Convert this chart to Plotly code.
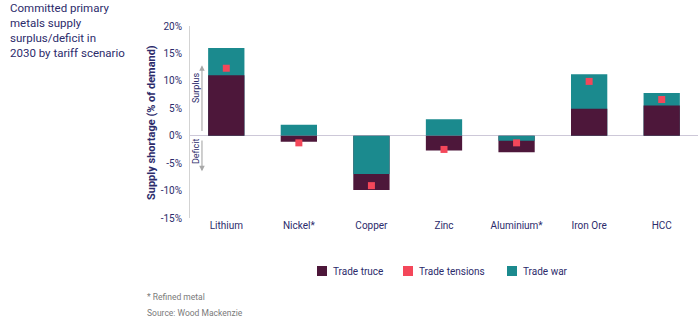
import plotly.graph_objects as go

# Supply surplus (+) / deficit (-) in 2030, % of demand, by tariff scenario
categories = ["Lithium", "Nickel*", "Copper", "Zinc", "Aluminium*", "Iron Ore", "HCC"]
trade_truce = [11.0, -1.1, -9.9, -2.7, -3.0, 4.9, 5.5]
trade_tensions = [12.3, -1.3, -9.1, -2.5, -1.3, 9.9, 6.6]
trade_war = [16.0, 2.0, -7.0, 3.0, -0.9, 11.2, 7.8]
y_ticks = [-15, -10, -5, 0, 5, 10, 15, 20]
y_ticktext = [f"{v}%" for v in y_ticks]
legend_names = ["Trade truce", "Trade tensions", "Trade war"]

TRUCE = "#4d173a"
TENSIONS = "#f4475a"
WAR = "#1b8a8e"
NAVY = "#2c2b6b"
GREY = "#7a7a7a"
FONT = "Roboto"

W, H = 698, 325
L, R, T, B = 190, 0, 26, 107
PW, PH = W - L - R, H - T - B


def px(x):
    """Horizontal pixel position -> paper coordinate."""
    return (x - L) / PW


def py(y):
    """Vertical pixel position -> paper coordinate."""
    return (H - B - y) / PH


# Overlay bars: the longer bar sits behind so both scenarios stay visible
back_vals, back_cols, front_vals, front_cols = [], [], [], []
for t, w in zip(trade_truce, trade_war):
    if abs(w) >= abs(t):
        back_vals.append(w); back_cols.append(WAR)
        front_vals.append(t); front_cols.append(TRUCE)
    else:
        back_vals.append(t); back_cols.append(TRUCE)
        front_vals.append(w); front_cols.append(WAR)

fig = go.Figure()
fig.add_bar(x=categories, y=back_vals, width=0.5, marker=dict(color=back_cols, line_width=0),
            showlegend=False, hoverinfo="skip")
fig.add_bar(x=categories, y=front_vals, width=0.5, marker=dict(color=front_cols, line_width=0),
            showlegend=False, hoverinfo="skip")
fig.add_scatter(x=categories, y=trade_tensions, mode="markers", name="Trade tensions",
                marker=dict(symbol="square", size=7, color=TENSIONS, line_width=0),
                showlegend=False)

fig.update_layout(
    width=W, height=H,
    margin=dict(l=L, r=R, t=T, b=B),
    plot_bgcolor="white", paper_bgcolor="white",
    font=dict(family=FONT, color=NAVY, size=10),
    barmode="overlay",
    showlegend=False,
    xaxis=dict(type="category", range=[-0.5, 6.5], showgrid=False, showline=False,
               ticks="", tickfont=dict(size=10, color=NAVY)),
    yaxis=dict(range=[-15, 20], tickvals=y_ticks, ticktext=y_ticktext, showgrid=False,
               zeroline=True, zerolinecolor="#cdc8d8", zerolinewidth=1,
               showline=True, linecolor="#d3d3d3", linewidth=1,
               ticks="", ticklabelstandoff=5, tickfont=dict(size=10, color=NAVY)),
)

annotations = [
    dict(text="Committed primary<br>metals supply<br>surplus/deficit in<br>2030 by tariff scenario",
         xref="paper", yref="paper", x=px(8), y=py(-1), xanchor="left", yanchor="top",
         align="left", showarrow=False, font=dict(size=11.5, color=NAVY)),
    dict(text="<b>Supply shortage (% of demand)</b>", textangle=-90,
         xref="paper", yref="paper", x=px(152), y=py(123), xanchor="center", yanchor="middle",
         showarrow=False, font=dict(size=11, color=NAVY)),
    dict(text="Surplus", textangle=-90, xref="x", yref="y", x=-0.5, xshift=6, y=8.7,
         xanchor="center", yanchor="middle", showarrow=False, font=dict(size=9, color=NAVY)),
    dict(text="Deficit", textangle=-90, xref="x", yref="y", x=-0.5, xshift=6, y=-2.8,
         xanchor="center", yanchor="middle", showarrow=False, font=dict(size=9, color=NAVY)),
    dict(text="", xref="x", yref="y", x=-0.335, y=12.85, ax=-0.335, ay=0.6, axref="x", ayref="y",
         showarrow=True, arrowhead=2, arrowsize=1, arrowwidth=1.1, arrowcolor="#a8a8a8"),
    dict(text="", xref="x", yref="y", x=-0.335, y=-6.5, ax=-0.335, ay=-0.6, axref="x", ayref="y",
         showarrow=True, arrowhead=2, arrowsize=1, arrowwidth=1.1, arrowcolor="#a8a8a8"),
    dict(text="* Refined metal", xref="paper", yref="paper", x=px(145), y=py(297),
         xanchor="left", yanchor="middle", showarrow=False, font=dict(size=8.5, color=GREY)),
    dict(text="Source: Wood Mackenzie", xref="paper", yref="paper", x=px(145), y=py(313),
         xanchor="left", yanchor="middle", showarrow=False, font=dict(size=8.5, color=GREY)),
]

# Legend row: colour swatch followed by its label
shapes = []
legend_x = [317, 403, 507]
for name, col, x0 in zip(legend_names, [TRUCE, TENSIONS, WAR], legend_x):
    shapes.append(dict(type="rect", xref="paper", yref="paper",
                       x0=px(x0), x1=px(x0 + 10), y0=py(276), y1=py(266),
                       fillcolor=col, line_width=0))
    annotations.append(dict(text=name, xref="paper", yref="paper", x=px(x0 + 14), y=py(271),
                            xanchor="left", yanchor="middle", showarrow=False,
                            font=dict(size=10, color=NAVY)))

fig.update_layout(annotations=annotations, shapes=shapes)

fig.write_html("out.html")
